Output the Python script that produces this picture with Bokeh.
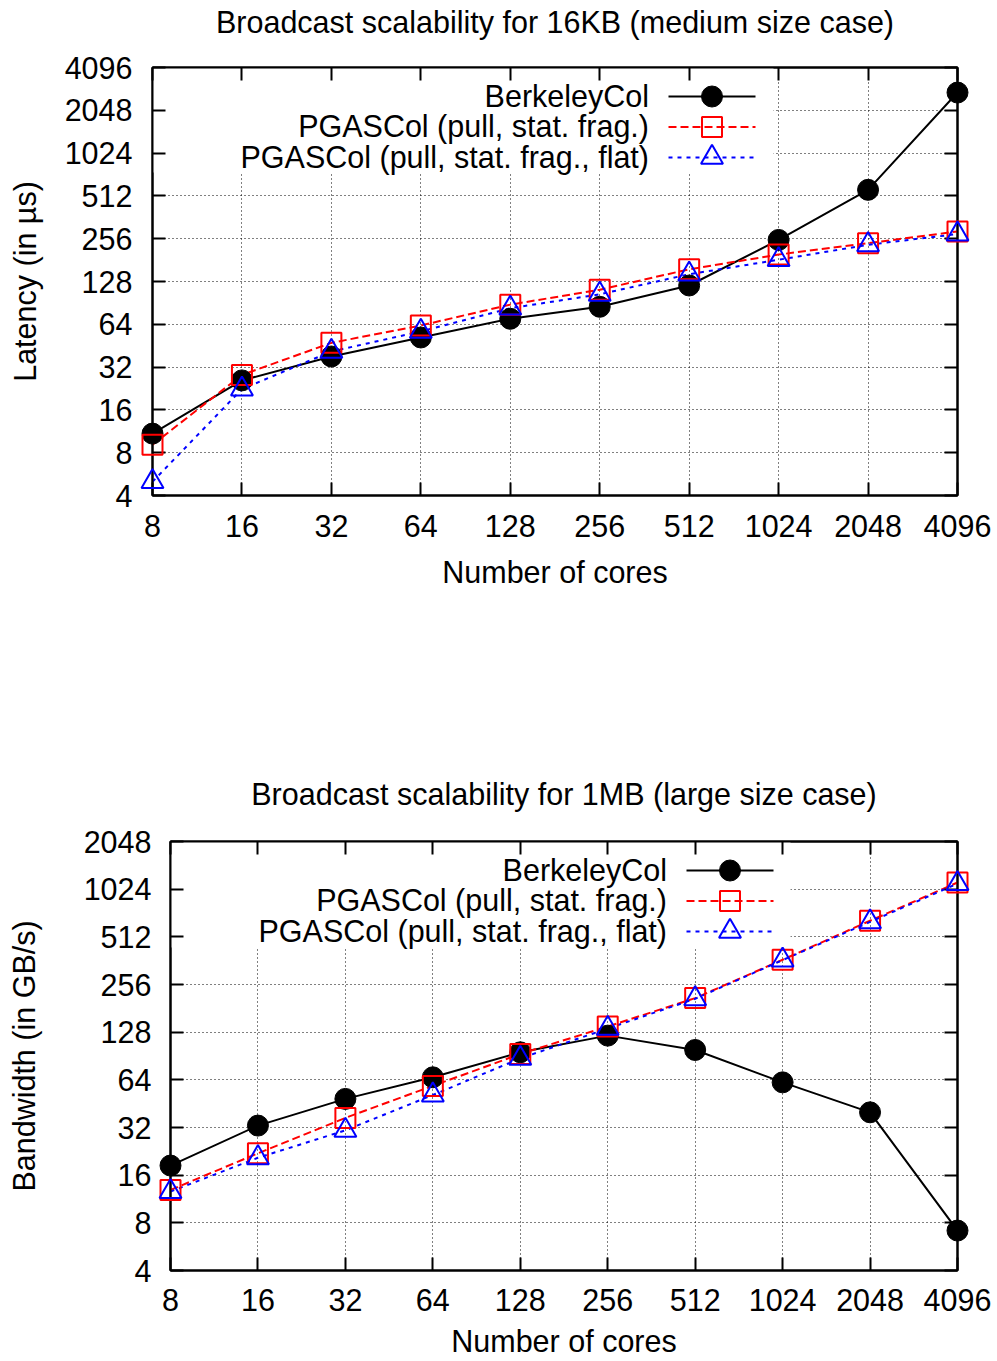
from bokeh.plotting import figure
from bokeh.models import (Range1d, LinearScale, FixedTicker, PrintfTickFormatter,
                          LogAxis, Label, BoxAnnotation)
from bokeh.layouts import column
from bokeh.embed import file_html
from bokeh.resources import INLINE

# ---------------- data ----------------
cores = [8, 16, 32, 64, 128, 256, 512, 1024, 2048, 4096]
latency_ticks = [4, 8, 16, 32, 64, 128, 256, 512, 1024, 2048, 4096]
bandwidth_ticks = [4, 8, 16, 32, 64, 128, 256, 512, 1024, 2048]

series_names = ["BerkeleyCol",
                "PGASCol (pull, stat. frag.)",
                "PGASCol (pull, stat. frag., flat)"]

latency_berkeley = [10.9, 25.8, 38, 51.7, 70, 85, 120, 251, 565, 2730]
latency_pgas = [9.1, 28.2, 47.4, 62.8, 88, 112, 156, 198, 238, 288]
latency_pgas_flat = [5.0, 22.4, 41.2, 57, 83, 104, 144, 182, 232, 276]

bandwidth_berkeley = [18.4, 32.9, 48.5, 66.4, 95.5, 121.7, 98.8, 61.7, 39.9, 7.15]
bandwidth_pgas = [12.9, 22, 36.8, 58.6, 93.3, 139, 210, 367, 647, 1128]
bandwidth_pgas_flat = [12.6, 20.6, 30.7, 51.3, 87.4, 135, 208, 365, 636, 1110]

title_top = "Broadcast scalability for 16KB (medium size case)"
title_bottom = "Broadcast scalability for 1MB (large size case)"
xlabel = "Number of cores"
ylabel_top = "Latency (in µs)"
ylabel_bottom = "Bandwidth (in GB/s)"

# ---------------- style ----------------
FONT = "Liberation Sans"
FS = "30.5px"
FIG_W = 997

STYLES = [
    dict(line=dict(line_color="black", line_width=2),
         marker=dict(marker="circle", size=21, fill_color="black",
                     line_color="black", line_width=1)),
    dict(line=dict(line_color="#ff0000", line_width=2, line_dash="8 4"),
         marker=dict(marker="square", size=20, fill_color=None,
                     line_color="#ff0000", line_width=2)),
    dict(line=dict(line_color="#0000ff", line_width=2, line_dash="4 5"),
         marker=dict(marker="triangle", size=22, fill_color=None,
                     line_color="#0000ff", line_width=2)),
]

# key layout (pixels inside the frame, measured from its top-left)
LEG_X0, LEG_X1 = 516, 603
LEG_ROWS = [29, 59.5, 90]
LEG_TEXT_X = 496.5
LEG_BASE = [28.5, 58.5, 89]

TITLE_STANDOFF = 3


def style_axis(ax, ticks, mirror=False):
    ax.ticker = FixedTicker(ticks=ticks)
    ax.formatter = PrintfTickFormatter(format="%d")
    ax.axis_line_color = "black"
    ax.axis_line_width = 2
    ax.major_tick_line_color = "black"
    ax.major_tick_line_width = 2
    ax.major_tick_in = 13
    ax.major_tick_out = 0
    ax.minor_tick_line_color = None
    ax.major_label_text_font = FONT
    ax.major_label_text_font_size = FS
    ax.major_label_text_color = "black"
    ax.axis_label_text_font = FONT
    ax.axis_label_text_font_size = FS
    ax.axis_label_text_font_style = "normal"
    ax.axis_label_text_color = "black"
    if mirror:
        ax.major_label_text_color = None
        ax.major_label_text_font_size = "1px"
        ax.major_label_standoff = 0


def build(title, ylabel, y_ticks, values, height, border_top, border_left,
          frame_w, frame_h, ytick_standoff, ylabel_standoff,
          xtick_standoff, xlabel_standoff, box_w, box_h, title_gap):
    p = figure(width=FIG_W, height=height,
               x_axis_type="log", y_axis_type="log",
               x_range=Range1d(cores[0], cores[-1]),
               y_range=Range1d(y_ticks[0], y_ticks[-1]),
               output_backend="svg", toolbar_location=None,
               min_border_left=border_left,
               min_border_right=FIG_W - border_left - frame_w,
               min_border_top=border_top,
               min_border_bottom=height - border_top - frame_h)
    p.frame_align = False
    p.outline_line_color = "black"
    p.outline_line_width = 2
    p.background_fill_color = "white"
    p.border_fill_color = "white"

    p.title.text = title
    p.title.align = "center"
    p.title.text_font = FONT
    p.title.text_font_size = FS
    p.title.text_font_style = "normal"
    p.title.text_color = "black"
    p.title.standoff = TITLE_STANDOFF

    # pixel-space helper range for the key placement
    p.extra_x_ranges = {"px": Range1d(0, frame_w)}
    p.extra_y_ranges = {"px": Range1d(frame_h, 0)}
    p.extra_x_scales = {"px": LinearScale()}
    p.extra_y_scales = {"px": LinearScale()}

    xax = p.below[0]
    yax = p.left[0]
    style_axis(xax, cores)
    style_axis(yax, y_ticks)
    xax.axis_label = xlabel
    yax.axis_label = ylabel
    xax.major_label_standoff = xtick_standoff
    xax.axis_label_standoff = xlabel_standoff
    yax.major_label_standoff = ytick_standoff
    yax.axis_label_standoff = ylabel_standoff

    # mirrored tick marks on top and right borders
    top_ax = LogAxis()
    right_ax = LogAxis()
    style_axis(top_ax, cores, mirror=True)
    style_axis(right_ax, y_ticks, mirror=True)
    p.add_layout(top_ax, "above")
    p.add_layout(right_ax, "right")

    # invisible spacer that lifts the title away from the frame
    spacer = LogAxis(ticker=FixedTicker(ticks=cores),
                     axis_line_color=None, major_tick_line_color=None,
                     minor_tick_line_color=None, major_label_text_color=None,
                     major_label_text_font_size="1px", major_label_standoff=0,
                     major_tick_in=0, major_tick_out=title_gap)
    p.add_layout(spacer, "above")

    p.xgrid.ticker = FixedTicker(ticks=cores)
    p.ygrid.ticker = FixedTicker(ticks=y_ticks)
    p.grid.grid_line_color = "black"
    p.grid.grid_line_dash = "1 3"
    p.grid.grid_line_width = 1
    p.grid.level = "image"

    # opaque key area (hides grid behind the key)
    box = BoxAnnotation(left=0, right=box_w, top=0, bottom=box_h,
                        x_range_name="px", y_range_name="px",
                        fill_color="white", fill_alpha=1.0, line_color=None,
                        level="underlay")
    p.add_layout(box)

    for vals, st in zip(values, STYLES):
        p.line(cores, vals, **st["line"])
        p.scatter(cores, vals, level="overlay", **st["marker"])

    # key
    for i, (name, st) in enumerate(zip(series_names, STYLES)):
        ry = LEG_ROWS[i]
        p.line([LEG_X0, LEG_X1], [ry, ry], x_range_name="px",
               y_range_name="px", **st["line"])
        p.scatter([(LEG_X0 + LEG_X1) / 2], [ry], x_range_name="px",
                  y_range_name="px", level="overlay", **st["marker"])
        p.add_layout(Label(x=LEG_TEXT_X, y=LEG_BASE[i], x_range_name="px",
                           y_range_name="px", text=name, text_align="right",
                           text_baseline="alphabetic", text_font=FONT,
                           text_font_size=FS, text_color="black"))
    return p


p1 = build(title_top, ylabel_top, latency_ticks,
           [latency_berkeley, latency_pgas, latency_pgas_flat],
           height=640, border_top=67, border_left=152, frame_w=805, frame_h=428,
           ytick_standoff=20, ylabel_standoff=20,
           xtick_standoff=19, xlabel_standoff=15, box_w=621, box_h=105,
           title_gap=27)

p2 = build(title_bottom, ylabel_bottom, bandwidth_ticks,
           [bandwidth_berkeley, bandwidth_pgas, bandwidth_pgas_flat],
           height=721, border_top=201, border_left=170, frame_w=787, frame_h=429,
           ytick_standoff=19, ylabel_standoff=40,
           xtick_standoff=18, xlabel_standoff=10, box_w=620, box_h=106,
           title_gap=29)

p = column(p1, p2)
open("out.html", "w").write(file_html(p, INLINE))
